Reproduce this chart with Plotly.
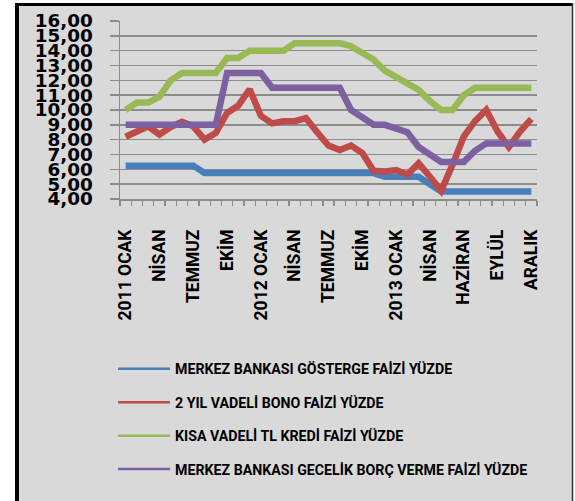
import plotly.graph_objects as go

# ---- data ----
tick_labels = ["2011 OCAK", "NİSAN", "TEMMUZ", "EKİM", "2012 OCAK", "NİSAN", "TEMMUZ",
               "EKİM", "2013 OCAK", "NİSAN", "HAZİRAN", "EYLÜL", "ARALIK"]
label_step = 3
n_periods = 37

series_names = ["MERKEZ BANKASI GÖSTERGE FAİZİ YÜZDE",
                "2 YIL VADELİ BONO FAİZİ YÜZDE",
                "KISA VADELİ TL KREDİ FAİZİ YÜZDE",
                "MERKEZ BANKASI GECELİK BORÇ VERME FAİZİ YÜZDE"]

gosterge = [6.25, 6.25, 6.25, 6.25, 6.25, 6.25, 6.25, 5.75, 5.75, 5.75, 5.75, 5.75, 5.75,
            5.75, 5.75, 5.75, 5.75, 5.75, 5.75, 5.75, 5.75, 5.75, 5.75, 5.5, 5.5, 5.5, 5.5,
            5.0, 4.5, 4.5, 4.5, 4.5, 4.5, 4.5, 4.5, 4.5, 4.5]
bono = [8.2, 8.55, 8.9, 8.35, 8.85, 9.2, 8.9, 8.0, 8.45, 9.8, 10.3, 11.4, 9.6, 9.1, 9.25,
        9.25, 9.45, 8.5, 7.6, 7.3, 7.6, 7.1, 5.9, 5.85, 5.95, 5.65, 6.4, 5.5, 4.55, 6.3,
        8.2, 9.25, 10.0, 8.55, 7.5, 8.55, 9.4]
kredi = [10.0, 10.5, 10.5, 10.9, 12.0, 12.5, 12.5, 12.5, 12.5, 13.5, 13.5, 14.0, 14.0,
         14.0, 14.0, 14.5, 14.5, 14.5, 14.5, 14.5, 14.3, 13.8, 13.4, 12.65, 12.2, 11.7,
         11.35, 10.6, 10.0, 10.0, 11.0, 11.5, 11.5, 11.5, 11.5, 11.5, 11.5]
gecelik = [9.0, 9.0, 9.0, 9.0, 9.0, 9.0, 9.0, 9.0, 9.0, 12.5, 12.5, 12.5, 12.5, 11.5, 11.5,
           11.5, 11.5, 11.5, 11.5, 11.5, 10.0, 9.5, 9.0, 9.0, 8.75, 8.5, 7.5, 7.0, 6.5,
           6.5, 6.5, 7.25, 7.75, 7.75, 7.75, 7.75, 7.75]

colors = ["#4A7EBB", "#BE4B48", "#98B954", "#7D60A0"]

x = list(range(n_periods))
tickvals = x[::label_step]

fig = go.Figure()
for name, vals, col in zip(series_names, [gosterge, bono, kredi, gecelik], colors):
    fig.add_trace(go.Scatter(x=x, y=vals, mode="lines", name=name, legendgroup=name,
                             showlegend=False, line=dict(color=col, width=6.5)))
# legend entries (thin sample lines, as in the reference)
for name, col in zip(series_names, colors):
    fig.add_trace(go.Scatter(x=[None], y=[None], mode="lines", name=name, legendgroup=name,
                             showlegend=True, line=dict(color=col, width=2.5),
                             hoverinfo="skip"))

# plot area geometry (pixels)
W, H = 575, 501
L, R, T, B = 120, 38, 21, 302
pw, ph = W - L - R, H - T - B


def px_x(p):
    return (p - L) / pw


def px_y(p):
    return (H - B - p) / ph


shapes = [
    dict(type="rect", xref="paper", yref="paper", layer="below",
         x0=px_x(17), x1=px_x(572), y0=px_y(501), y1=px_y(4),
         fillcolor="#D9D9D9", line=dict(width=0)),
    dict(type="line", xref="paper", yref="paper", layer="below",
         x0=px_x(17), x1=px_x(17), y0=px_y(501), y1=px_y(3),
         line=dict(color="black", width=4)),
    dict(type="line", xref="paper", yref="paper", layer="below",
         x0=px_x(15), x1=px_x(573), y0=px_y(4.5), y1=px_y(4.5),
         line=dict(color="black", width=3)),
    dict(type="line", xref="paper", yref="paper", layer="below",
         x0=px_x(572.5), x1=px_x(572.5), y0=px_y(501), y1=px_y(3),
         line=dict(color="#333333", width=1.5)),
]

grid_col = "#8C8C8C"
fig.update_layout(
    width=W, height=H,
    margin=dict(l=L, r=R, t=T, b=B, pad=0, autoexpand=False),
    paper_bgcolor="white", plot_bgcolor="rgba(0,0,0,0)",
    separators=",.",
    shapes=shapes,
    showlegend=True,
    legend=dict(x=px_x(113), y=px_y(353), xanchor="left", yanchor="top",
                bgcolor="rgba(0,0,0,0)", traceorder="grouped", tracegroupgap=12,
                itemwidth=52,
                font=dict(family="Roboto", size=14.2, color="black", weight="bold")),
    xaxis=dict(range=[-0.5, n_periods - 0.5], tickmode="array", tickvals=tickvals,
               ticktext=tick_labels, tickangle=-90, ticks="", showgrid=False,
               zeroline=False, showline=True, linecolor=grid_col, linewidth=1.5,
               ticklabelstandoff=22, automargin=False,
               tickfont=dict(family="Roboto", size=17.5, color="black", weight="bold"),
               minor=dict(ticks="outside", tick0=-0.5, dtick=1, ticklen=5,
                          tickcolor=grid_col, tickwidth=1.3, showgrid=False)),
    yaxis=dict(range=[4, 16], dtick=1, tick0=4, tickformat=".2f", showgrid=True,
               gridcolor=grid_col, gridwidth=1.5, zeroline=False, showline=True,
               linecolor=grid_col, linewidth=1.5, ticks="outside", ticklen=9,
               tickcolor=grid_col, tickwidth=1.5, ticklabelstandoff=13, automargin=False,
               tickfont=dict(family="DejaVu Sans", size=18.4, color="black", weight="bold")),
)

fig.write_html("out.html", config={"displayModeBar": False, "staticPlot": True},
               post_script="document.body.style.margin='0';document.body.style.overflow='hidden';")
